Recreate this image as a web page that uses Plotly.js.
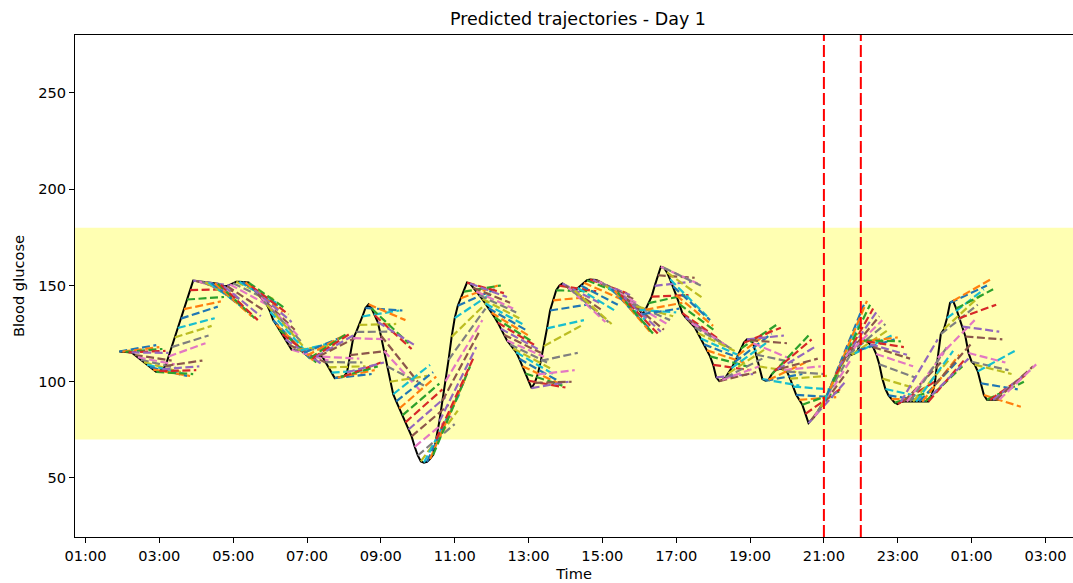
<!DOCTYPE html>
<html>
<head>
<meta charset="utf-8">
<script src="https://cdn.plot.ly/plotly-3.0.1.min.js"></script>
<style>
  html, body { margin: 0; padding: 0; background: #fff; overflow: hidden; }
  #chart { width: 1073px; height: 583px; }
</style>
</head>
<body>
<div id="chart"></div>
<script>
// Sensor glucose, one reading every 5 minutes from 01:55 (minutes after midnight)
const startMinute = 115;
const stepMinutes = 5;
const horizonMinutes = 60;

const glucose = [
  115.7,115.6,115.5,115.3,115.2,113.9,112.7,111.4,110.1,108.9,107.6,106.3,
  105.1,105.5,106.5,108.2,113.1,118.0,123.0,127.9,132.8,137.7,142.7,147.6,
  152.5,152.3,152.1,151.9,151.7,151.5,151.3,151.1,150.9,150.3,149.6,149.7,
  150.5,151.1,151.9,151.9,151.8,151.6,151.5,149.5,147.6,145.6,143.7,141.7,
  139.8,136.4,132.0,129.6,127.1,124.7,122.0,119.3,116.6,116.6,116.6,116.3,
  115.0,113.6,112.3,112.5,113.0,113.3,113.0,110.2,107.5,104.7,101.9,102.2,
  102.5,102.8,104.9,113.8,122.6,125.9,129.5,133.9,138.3,140.2,138.0,134.5,
  131.0,124.0,116.0,108.0,100.0,93.5,89.8,86.1,82.5,78.9,75.2,71.6,
  66.2,61.7,58.6,58.0,58.4,59.9,62.0,70.1,79.3,90.1,100.2,111.4,
  123.3,133.0,139.5,143.4,146.8,151.5,151.0,148.8,146.9,144.9,142.9,140.6,
  138.2,135.8,133.4,130.7,127.5,124.4,121.4,119.4,117.3,115.3,111.9,108.1,
  104.3,100.5,96.7,99.4,103.8,110.9,118.5,127.7,137.0,142.3,147.5,149.9,
  151.0,149.9,148.8,147.5,147.3,148.7,150.0,151.4,152.7,153.1,153.0,152.9,
  152.0,151.0,149.9,149.0,148.2,147.3,146.3,145.1,143.9,142.8,141.6,140.4,
  139.2,137.3,135.1,137.4,140.8,144.2,149.8,155.3,159.7,159.2,156.8,153.2,
  149.5,144.9,140.3,135.6,133.5,131.9,130.4,128.3,125.3,122.4,119.4,116.3,
  113.2,108.8,102.3,100.3,101.0,102.2,104.4,107.1,110.2,113.7,117.2,120.3,
  122.0,121.6,120.0,114.1,107.9,101.4,100.5,101.0,103.7,105.6,106.4,106.8,
  106.1,105.3,101.6,97.5,93.2,90.6,88.0,83.3,78.5,80.3,82.0,84.5,
  86.9,89.6,93.0,96.4,100.0,104.0,108.0,110.7,113.1,114.0,114.0,114.7,
  116.3,120.8,121.4,120.9,119.5,118.0,114.4,109.1,101.6,96.2,92.9,91.0,
  89.1,88.4,89.5,89.7,89.7,89.7,89.7,89.7,89.7,89.7,89.7,89.7,
  93.0,98.4,112.4,124.7,127.3,133.0,141.0,142.0,138.0,133.0,128.7,123.5,
  114.9,110.4,108.9,105.4,99.2,93.1,90.6,90.6,90.6,90.6,90.6
];

// Value reached by the forecast issued at each reading, 60 minutes later
const forecastEnd = [
  119,118,117,116,115,111,109,107,105,104,103,103,
  104,106,108,111,120,124,129,133,139,141.7,144,148,
  150,147,145,143,140,138,136,134,133,132,134,137,
  140,142,143,141,139,136,138,135,131,127,124,121,
  118,115,112,111,110,110,109,110,111,117,119,121,
  123,124,125,125,124,123,112,110,108,106,104,106,
  108,110,110,116,122,126,130,137,137,132,120,117,
  119,100,95,98,103,108.8,105,102.7,99,96,92,88,
  82,78,85,95,100,104,108,112,118,126,132,138,
  142,146,148,150,150,146,144,141,138,136,133,130,
  127,124,121,119,117,115,113,110,107,104,101,99,
  98,97,100,100,106,115,129,132,140,144,147,147,
  141,137,131,131,130,137,140,143,145,146,145,143,
  141,139,136,132,128,125,124,125,126,127,130,132,
  134,136,138,141,145,145,152,154,151,150,143,134,
  132,129,126,122,120,119,118,117,116,114,112,110,
  108,106,104,105,108,112,117,121,125,128,130,128,
  124,120,112,110,105,98,104,110,124,122,118,112,
  108,104,103,96,92,92,95,97,100,106,112,118,
  125,132,140,142,140,138,136,134,132,130,127,124,
  122,123,121,118,114,112,108,102,96,92,90,91,
  95,100,122,110,115,118,112,116,110,114,108,112,
  112,120,132,140,145,148,150,153,148,140,126,122,
  110,106,104,116,96,87,100,104,106,108,109
];

// Axis ticks (hours after midnight of day 1)
const tickHours = [1, 3, 5, 7, 9, 11, 13, 15, 17, 19, 21, 23, 25, 27];
const tickLabels = ['01:00', '03:00', '05:00', '07:00', '09:00', '11:00', '13:00',
                    '15:00', '17:00', '19:00', '21:00', '23:00', '01:00', '03:00'];
const glucoseTicks = [50, 100, 150, 200, 250];

// Target glucose band and the marked hours
const targetBand = [70, 180];
const markerHours = [21, 22];

// Matplotlib "tab10" cycle used for the forecast lines
const palette = ['#1f77b4', '#ff7f0e', '#2ca02c', '#d62728', '#9467bd',
                 '#8c564b', '#e377c2', '#7f7f7f', '#bcbd22', '#17becf'];

const hourOf = i => (startMinute + i * stepMinutes) / 60;

const traces = [];

// Measured glucose curve
traces.push({
  type: 'scatter', mode: 'lines',
  x: glucose.map((_, i) => hourOf(i)),
  y: glucose,
  line: { color: '#000000', width: 2 },
  hoverinfo: 'skip'
});

// One dashed forecast per reading
forecastEnd.forEach((end, i) => {
  const t0 = hourOf(i);
  traces.push({
    type: 'scatter', mode: 'lines',
    x: [t0, t0 + horizonMinutes / 60],
    y: [glucose[i], end],
    line: { color: palette[i % palette.length], width: 2.2, dash: '8px,3.5px' },
    hoverinfo: 'skip'
  });
});

const shapes = [{
  type: 'rect', layer: 'below',
  xref: 'paper', x0: 0, x1: 1,
  yref: 'y', y0: targetBand[0], y1: targetBand[1],
  fillcolor: 'rgba(255,255,0,0.3)', line: { width: 0 }
}];
markerHours.forEach(h => shapes.push({
  type: 'line', layer: 'above',
  xref: 'x', x0: h, x1: h,
  yref: 'paper', y0: 0, y1: 1,
  line: { color: '#ff0000', width: 2, dash: '12px,4px' }
}));

const axisCommon = {
  showgrid: false, zeroline: false,
  showline: true, linecolor: '#000', linewidth: 1,
  ticks: 'outside', ticklen: 5, tickwidth: 1, tickcolor: '#000',
  tickfont: { family: 'DejaVu Sans', size: 14.6, color: '#000' }
};

const layout = {
  width: 1073, height: 583,
  margin: { l: 75, r: 0, t: 35, b: 46, pad: 0 },
  paper_bgcolor: '#ffffff', plot_bgcolor: '#ffffff',
  showlegend: false,
  font: { family: 'DejaVu Sans', size: 14.6, color: '#000' },
  title: {
    text: 'Predicted trajectories - Day 1',
    font: { family: 'DejaVu Sans', size: 17.5, color: '#000' },
    xref: 'container', x: 578 / 1073, xanchor: 'center',
    yref: 'container', y: 1 - 19 / 583, yanchor: 'middle'
  },
  xaxis: Object.assign({}, axisCommon, {
    range: [0.7156, 27.747],
    tickmode: 'array', tickvals: tickHours, ticktext: tickLabels,
    mirror: true,
    title: { text: 'Time', standoff: 6, font: { family: 'DejaVu Sans', size: 14.6, color: '#000' } }
  }),
  yaxis: Object.assign({}, axisCommon, {
    range: [19.35, 280.1],
    tickmode: 'array', tickvals: glucoseTicks,
    title: { text: 'Blood glucose', standoff: 10, font: { family: 'DejaVu Sans', size: 14.6, color: '#000' } }
  }),
  shapes: shapes
};

Plotly.newPlot('chart', traces, layout, { displayModeBar: false, staticPlot: true });
</script>
</body>
</html>
